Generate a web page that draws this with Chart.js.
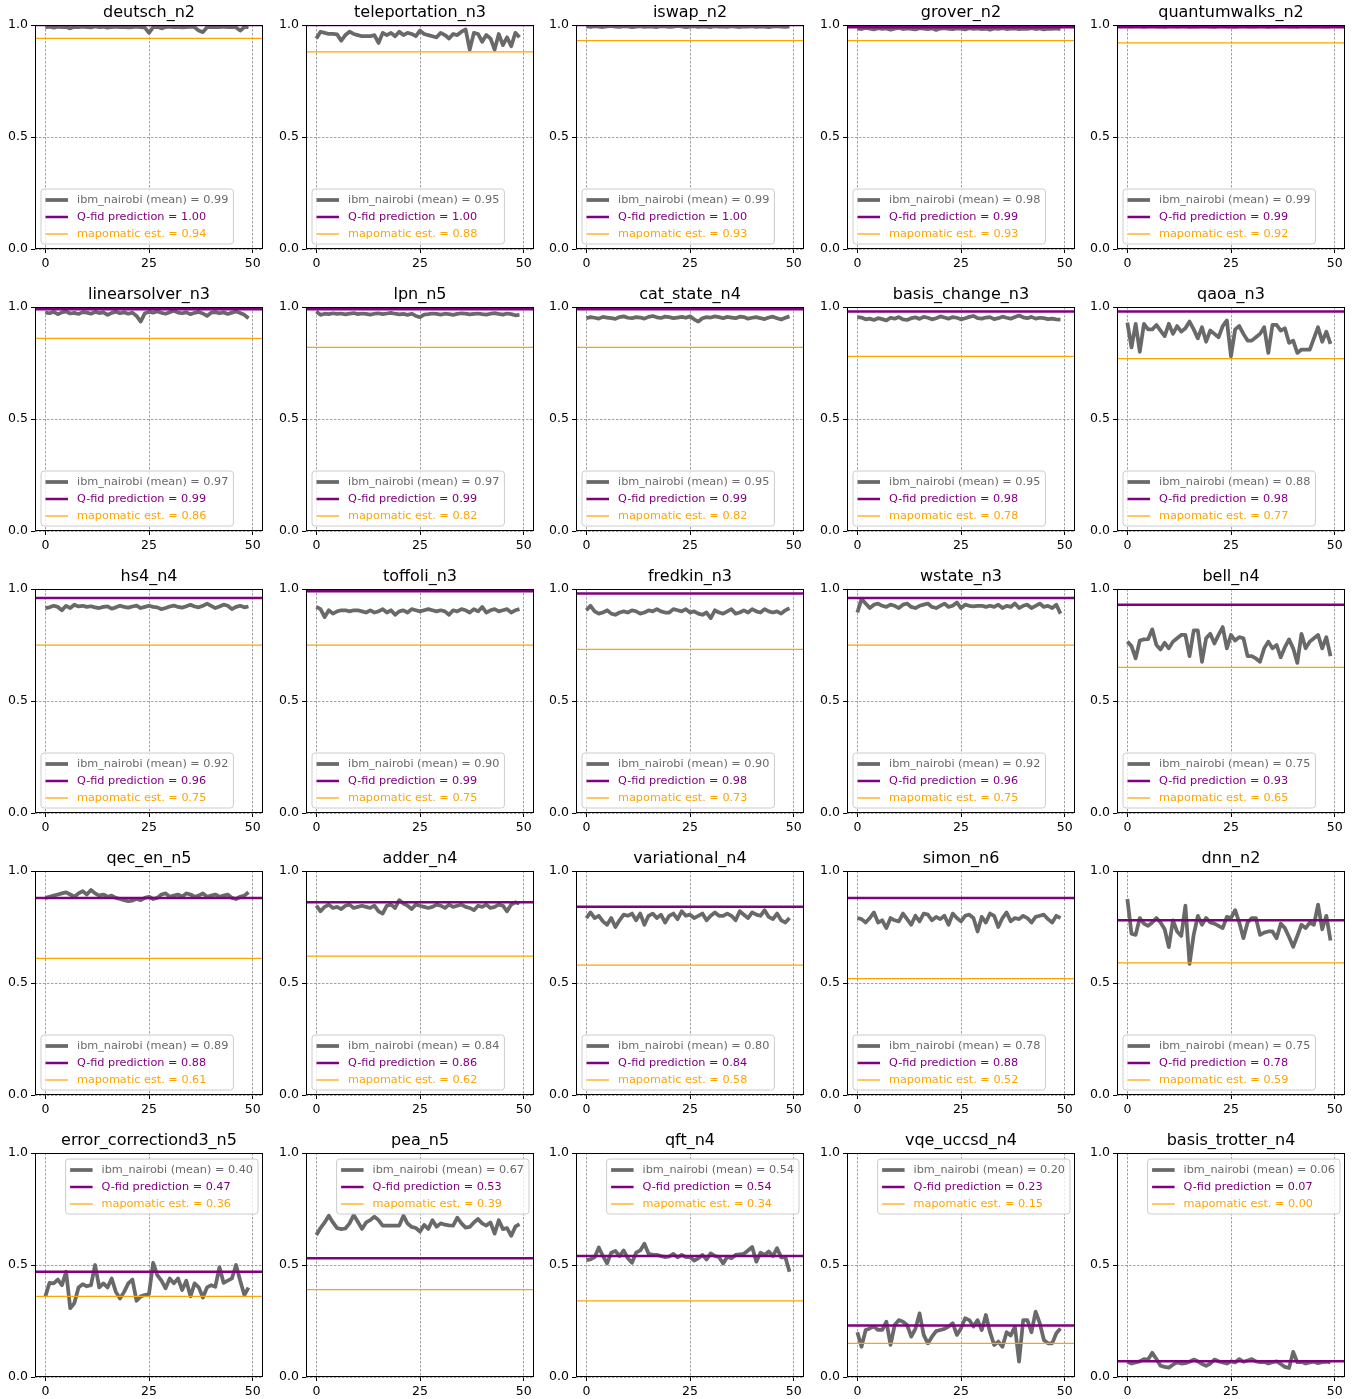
<!DOCTYPE html>
<html>
<head>
<meta charset="utf-8">
<script src="https://cdn.jsdelivr.net/npm/chart.js@4.4.0/dist/chart.umd.min.js"></script>
<style>
  html, body { margin: 0; padding: 0; background: #fff; }
  #fig { position: relative; width: 1370px; height: 1399px; }
  #fig canvas { position: absolute; }
</style>
</head>
<body>
<div id="fig"></div>
<script>
// panel titles, row by row
const names = [
  'deutsch_n2', 'teleportation_n3', 'iswap_n2', 'grover_n2', 'quantumwalks_n2',
  'linearsolver_n3', 'lpn_n5', 'cat_state_n4', 'basis_change_n3', 'qaoa_n3',
  'hs4_n4', 'toffoli_n3', 'fredkin_n3', 'wstate_n3', 'bell_n4',
  'qec_en_n5', 'adder_n4', 'variational_n4', 'simon_n6', 'dnn_n2',
  'error_correctiond3_n5', 'pea_n5', 'qft_n4', 'vqe_uccsd_n4', 'basis_trotter_n4'
];

// values printed in the legends
const meanShown = [0.99, 0.95, 0.99, 0.98, 0.99, 0.97, 0.97, 0.95, 0.95, 0.88,
  0.92, 0.90, 0.90, 0.92, 0.75, 0.89, 0.84, 0.80, 0.78, 0.75, 0.40, 0.67, 0.54, 0.20, 0.06];
const qfid = [1.00, 1.00, 1.00, 0.99, 0.99, 0.99, 0.99, 0.99, 0.98, 0.98,
  0.96, 0.99, 0.98, 0.96, 0.93, 0.88, 0.86, 0.84, 0.88, 0.78, 0.47, 0.53, 0.54, 0.23, 0.07];
const mapo = [0.94, 0.88, 0.93, 0.93, 0.92, 0.86, 0.82, 0.82, 0.78, 0.77,
  0.75, 0.75, 0.73, 0.75, 0.65, 0.61, 0.62, 0.58, 0.52, 0.59, 0.36, 0.39, 0.34, 0.15, 0.00];

const xTicks = [0, 25, 50];
const yTicks = [0, 0.5, 1.0];

// ibm_nairobi runs, 50 per circuit
const deutsch = [0.990,0.992,0.988,0.993,0.990,0.991,0.985,0.992,0.990,0.993,
  0.991,0.989,0.994,0.990,0.992,0.988,0.991,0.993,0.990,0.992,
  0.989,0.991,0.993,0.990,0.988,0.965,0.990,0.992,0.985,0.991,
  0.993,0.990,0.992,0.989,0.991,0.993,0.990,0.975,0.968,0.990,
  0.992,0.990,0.991,0.993,0.990,0.992,0.989,0.975,0.991,0.990];
const teleport = [0.94,0.97,0.965,0.96,0.96,0.958,0.93,0.955,0.97,0.96,
  0.955,0.95,0.95,0.95,0.955,0.92,0.965,0.955,0.965,0.95,
  0.97,0.955,0.965,0.96,0.95,0.975,0.96,0.955,0.95,0.945,
  0.965,0.955,0.94,0.96,0.955,0.97,0.98,0.89,0.965,0.96,
  0.925,0.955,0.94,0.89,0.96,0.91,0.945,0.905,0.965,0.945];
const iswap = [0.994,0.992,0.995,0.993,0.991,0.994,0.996,0.993,0.992,0.995,
  0.994,0.990,0.993,0.995,0.992,0.994,0.993,0.991,0.995,0.994,
  0.992,0.993,0.996,0.994,0.990,0.993,0.995,0.992,0.994,0.993,
  0.991,0.995,0.993,0.994,0.992,0.995,0.993,0.991,0.994,0.993,
  0.995,0.992,0.994,0.993,0.990,0.994,0.995,0.993,0.992,0.994];
const grover = [0.985,0.982,0.987,0.984,0.980,0.986,0.983,0.985,0.979,0.984,
  0.987,0.982,0.985,0.983,0.980,0.986,0.984,0.982,0.985,0.978,
  0.984,0.986,0.983,0.981,0.985,0.984,0.980,0.986,0.983,0.985,
  0.982,0.984,0.979,0.985,0.983,0.986,0.982,0.984,0.985,0.981,
  0.984,0.983,0.986,0.982,0.985,0.980,0.984,0.983,0.985,0.982];
const qwalks = [0.995,0.994,0.996,0.995,0.993,0.995,0.996,0.994,0.995,0.993,
  0.996,0.995,0.994,0.995,0.996,0.993,0.995,0.994,0.996,0.995,
  0.994,0.993,0.995,0.996,0.994,0.995,0.993,0.995,0.996,0.994,
  0.995,0.994,0.996,0.995,0.993,0.995,0.994,0.996,0.995,0.994,
  0.995,0.993,0.996,0.995,0.994,0.995,0.996,0.994,0.995,0.994];
const linsolve = [0.975,0.972,0.978,0.968,0.976,0.980,0.971,0.974,0.969,0.977,
  0.975,0.970,0.978,0.973,0.976,0.965,0.974,0.979,0.972,0.976,
  0.970,0.975,0.960,0.935,0.972,0.978,0.975,0.980,0.974,0.970,
  0.977,0.983,0.975,0.972,0.976,0.968,0.974,0.978,0.971,0.960,
  0.975,0.977,0.972,0.976,0.969,0.975,0.980,0.973,0.965,0.950];
const lpn = [0.980,0.965,0.970,0.968,0.972,0.969,0.971,0.967,0.970,0.973,
  0.968,0.971,0.969,0.966,0.970,0.972,0.968,0.971,0.974,0.970,
  0.967,0.969,0.965,0.970,0.960,0.955,0.966,0.968,0.971,0.969,
  0.966,0.970,0.968,0.965,0.969,0.972,0.970,0.967,0.969,0.971,
  0.968,0.966,0.970,0.973,0.969,0.966,0.971,0.968,0.963,0.965];
const catState = [0.950,0.955,0.952,0.948,0.956,0.953,0.950,0.947,0.955,0.958,
  0.952,0.950,0.955,0.953,0.948,0.956,0.960,0.954,0.951,0.957,
  0.955,0.950,0.953,0.956,0.952,0.958,0.945,0.935,0.950,0.955,
  0.953,0.958,0.955,0.950,0.956,0.953,0.950,0.957,0.955,0.948,
  0.952,0.955,0.950,0.946,0.953,0.957,0.950,0.944,0.952,0.958];
const basisChange = [0.955,0.953,0.945,0.948,0.942,0.950,0.946,0.940,0.952,0.948,
  0.955,0.945,0.942,0.950,0.954,0.947,0.956,0.952,0.945,0.950,
  0.958,0.953,0.948,0.955,0.952,0.945,0.950,0.956,0.960,0.950,
  0.948,0.953,0.955,0.946,0.950,0.957,0.952,0.948,0.955,0.962,
  0.954,0.950,0.956,0.948,0.952,0.950,0.946,0.948,0.945,0.944];
const qaoa = [0.93,0.82,0.925,0.80,0.925,0.90,0.90,0.92,0.895,0.87,
  0.925,0.88,0.915,0.89,0.905,0.935,0.90,0.86,0.91,0.845,
  0.895,0.88,0.865,0.915,0.94,0.78,0.90,0.915,0.88,0.85,
  0.85,0.865,0.88,0.91,0.795,0.92,0.92,0.895,0.905,0.84,
  0.85,0.795,0.81,0.81,0.81,0.86,0.91,0.845,0.89,0.835];
const hs4 = [0.915,0.918,0.925,0.920,0.905,0.925,0.915,0.930,0.922,0.925,
  0.920,0.923,0.918,0.915,0.920,0.922,0.912,0.918,0.925,0.920,
  0.917,0.922,0.926,0.915,0.920,0.925,0.920,0.918,0.910,0.915,
  0.922,0.926,0.920,0.917,0.923,0.930,0.922,0.918,0.925,0.935,
  0.925,0.915,0.922,0.930,0.925,0.910,0.920,0.925,0.918,0.922];
const toffoli = [0.920,0.910,0.875,0.905,0.890,0.900,0.905,0.905,0.900,0.905,
  0.905,0.900,0.895,0.905,0.895,0.900,0.910,0.895,0.905,0.885,
  0.900,0.905,0.895,0.910,0.905,0.900,0.905,0.910,0.905,0.900,
  0.905,0.900,0.885,0.905,0.900,0.910,0.905,0.895,0.910,0.900,
  0.920,0.895,0.905,0.910,0.900,0.905,0.910,0.895,0.905,0.910];
const fredkin = [0.905,0.925,0.900,0.890,0.895,0.905,0.890,0.885,0.895,0.900,
  0.895,0.905,0.900,0.890,0.895,0.905,0.900,0.910,0.900,0.895,
  0.895,0.910,0.905,0.900,0.910,0.895,0.900,0.890,0.885,0.895,
  0.870,0.905,0.895,0.890,0.900,0.910,0.890,0.895,0.905,0.895,
  0.910,0.900,0.895,0.910,0.900,0.895,0.900,0.890,0.905,0.915];
const wstate = [0.895,0.955,0.935,0.915,0.930,0.935,0.925,0.920,0.930,0.925,
  0.915,0.930,0.935,0.920,0.915,0.925,0.930,0.935,0.920,0.915,
  0.925,0.935,0.920,0.925,0.940,0.915,0.930,0.925,0.922,0.925,
  0.925,0.920,0.925,0.920,0.930,0.915,0.925,0.920,0.935,0.915,
  0.925,0.930,0.915,0.925,0.935,0.920,0.925,0.915,0.930,0.890];
const bell = [0.765,0.745,0.69,0.77,0.775,0.776,0.82,0.75,0.73,0.76,
  0.735,0.765,0.78,0.795,0.795,0.70,0.815,0.815,0.675,0.78,
  0.80,0.757,0.795,0.83,0.735,0.795,0.77,0.785,0.78,0.70,
  0.70,0.69,0.675,0.735,0.765,0.735,0.75,0.695,0.74,0.775,
  0.735,0.67,0.80,0.735,0.765,0.78,0.795,0.735,0.785,0.70];
const qec = [0.880,0.885,0.890,0.895,0.900,0.905,0.895,0.885,0.900,0.910,
  0.895,0.915,0.900,0.890,0.895,0.885,0.890,0.880,0.875,0.870,
  0.865,0.868,0.875,0.870,0.880,0.885,0.875,0.880,0.895,0.900,
  0.885,0.890,0.895,0.885,0.900,0.895,0.885,0.890,0.900,0.885,
  0.890,0.895,0.885,0.890,0.895,0.880,0.875,0.885,0.890,0.905];
const adder = [0.845,0.820,0.840,0.850,0.835,0.840,0.830,0.845,0.850,0.835,
  0.840,0.845,0.840,0.835,0.845,0.820,0.810,0.845,0.850,0.835,
  0.870,0.855,0.845,0.830,0.850,0.845,0.840,0.835,0.840,0.850,
  0.845,0.835,0.850,0.840,0.845,0.850,0.840,0.835,0.825,0.845,
  0.840,0.850,0.835,0.840,0.850,0.845,0.820,0.850,0.860,0.855];
const variational = [0.790,0.815,0.790,0.800,0.775,0.760,0.790,0.750,0.780,0.805,
  0.800,0.810,0.780,0.810,0.760,0.800,0.810,0.790,0.805,0.770,
  0.800,0.810,0.785,0.820,0.800,0.805,0.790,0.800,0.810,0.780,
  0.800,0.815,0.800,0.800,0.810,0.800,0.780,0.820,0.805,0.790,
  0.815,0.805,0.800,0.825,0.795,0.785,0.810,0.780,0.770,0.790];
const simon = [0.790,0.785,0.770,0.790,0.815,0.770,0.780,0.745,0.790,0.780,
  0.775,0.810,0.785,0.760,0.800,0.775,0.810,0.805,0.780,0.795,
  0.785,0.800,0.760,0.810,0.790,0.775,0.800,0.805,0.790,0.730,
  0.795,0.770,0.810,0.800,0.750,0.790,0.815,0.775,0.790,0.785,
  0.800,0.790,0.770,0.795,0.800,0.805,0.785,0.770,0.800,0.790];
const dnn = [0.875,0.72,0.715,0.79,0.765,0.755,0.77,0.79,0.77,0.74,
  0.66,0.78,0.73,0.71,0.845,0.585,0.715,0.80,0.76,0.79,
  0.77,0.765,0.755,0.745,0.795,0.79,0.825,0.77,0.70,0.77,
  0.79,0.79,0.715,0.725,0.73,0.73,0.70,0.765,0.745,0.705,
  0.662,0.71,0.76,0.745,0.77,0.76,0.85,0.74,0.80,0.69];
const errCorr = [0.36,0.42,0.418,0.435,0.41,0.47,0.307,0.33,0.40,0.414,
  0.405,0.41,0.50,0.40,0.418,0.40,0.44,0.38,0.35,0.38,
  0.418,0.435,0.34,0.36,0.366,0.37,0.51,0.455,0.43,0.396,
  0.44,0.418,0.44,0.388,0.43,0.36,0.418,0.40,0.355,0.40,
  0.41,0.403,0.49,0.42,0.43,0.44,0.50,0.43,0.366,0.399];
const pea = [0.634,0.665,0.69,0.72,0.69,0.665,0.66,0.663,0.686,0.723,
  0.693,0.661,0.69,0.70,0.716,0.70,0.676,0.676,0.676,0.676,
  0.676,0.72,0.685,0.67,0.665,0.649,0.679,0.661,0.70,0.671,
  0.686,0.68,0.677,0.676,0.711,0.686,0.667,0.67,0.69,0.705,
  0.686,0.676,0.69,0.64,0.70,0.66,0.665,0.63,0.671,0.682];
const qft = [0.522,0.525,0.535,0.578,0.54,0.507,0.555,0.563,0.54,0.565,
  0.53,0.51,0.555,0.565,0.595,0.55,0.545,0.545,0.54,0.535,
  0.538,0.55,0.534,0.545,0.535,0.535,0.52,0.53,0.545,0.525,
  0.552,0.54,0.535,0.507,0.537,0.53,0.545,0.548,0.55,0.565,
  0.58,0.515,0.555,0.545,0.56,0.54,0.575,0.534,0.535,0.47];
const vqe = [0.20,0.135,0.21,0.217,0.225,0.21,0.21,0.247,0.143,0.232,
  0.254,0.247,0.232,0.18,0.215,0.284,0.188,0.15,0.18,0.205,
  0.21,0.215,0.225,0.24,0.188,0.217,0.262,0.254,0.225,0.254,
  0.21,0.277,0.20,0.143,0.158,0.135,0.20,0.185,0.225,0.069,
  0.254,0.254,0.20,0.292,0.24,0.165,0.15,0.15,0.195,0.217];
const trotter = [0.068,0.060,0.065,0.070,0.080,0.078,0.108,0.080,0.050,0.045,
  0.042,0.055,0.065,0.060,0.062,0.068,0.078,0.070,0.058,0.050,
  0.060,0.078,0.070,0.065,0.060,0.070,0.065,0.080,0.068,0.074,
  0.080,0.070,0.066,0.068,0.060,0.066,0.070,0.058,0.045,0.040,
  0.112,0.066,0.068,0.060,0.065,0.068,0.062,0.066,0.068,0.065];

const runs = [deutsch, teleport, iswap, grover, qwalks,
  linsolve, lpn, catState, basisChange, qaoa,
  hs4, toffoli, fredkin, wstate, bell,
  qec, adder, variational, simon, dnn,
  errCorr, pea, qft, vqe, trotter];

const GRAY = '#696969';
const PURPLE = '#800080';
const ORANGE = '#ffa500';
const X_MIN = -2.5, X_MAX = 52.5;
const FONT = '"DejaVu Sans", sans-serif';

Chart.defaults.font.family = FONT;

// title, full frame and in-axes legend (matplotlib look)
function decor(k) {
  const row = Math.floor(k / 5);
  return {
    id: 'decor',
    afterDraw(chart) {
      const { ctx, chartArea: a } = chart;
      ctx.save();

      ctx.strokeStyle = '#000';
      ctx.lineWidth = 1;
      ctx.strokeRect(Math.round(a.left) + 0.5, Math.round(a.top) + 0.5,
        Math.round(a.right - a.left) - 1, Math.round(a.bottom - a.top) - 1);

      ctx.fillStyle = '#000';
      ctx.font = '16px ' + FONT;
      ctx.textAlign = 'center';
      ctx.textBaseline = 'alphabetic';
      ctx.fillText(names[k], (a.left + a.right) / 2, a.top - 8);

      // legend
      ctx.font = '11.25px ' + FONT;
      const items = chart.data.datasets;
      const tw = Math.max(...items.map(d => ctx.measureText(d.label).width));
      const bw = tw + 41, bh = 55;
      let bx, by;
      if (row < 4) { bx = a.left + 5.5; by = a.bottom - 5.5 - bh; }
      else { bx = a.right - 5.5 - bw; by = a.top + 5.5; }

      ctx.beginPath();
      ctx.roundRect(bx + 0.5, by + 0.5, bw, bh, 3);
      ctx.fillStyle = 'rgba(255,255,255,0.8)';
      ctx.fill();
      ctx.strokeStyle = '#cccccc';
      ctx.lineWidth = 1;
      ctx.stroke();

      ctx.textAlign = 'left';
      ctx.textBaseline = 'middle';
      items.forEach((d, j) => {
        const cy = by + 11.5 + 17 * j;
        ctx.beginPath();
        ctx.moveTo(bx + 5, cy);
        ctx.lineTo(bx + 27.5, cy);
        ctx.strokeStyle = d.borderColor;
        ctx.lineWidth = d.borderWidth;
        ctx.stroke();
        ctx.fillStyle = d.borderColor;
        ctx.fillText(d.label, bx + 36.5, cy + 0.5);
      });
      ctx.restore();
    }
  };
}

const fig = document.getElementById('fig');

names.forEach((name, k) => {
  const row = Math.floor(k / 5), col = k % 5;
  const cv = document.createElement('canvas');
  cv.width = 270;
  cv.height = 282;
  cv.style.left = Math.round(270.5 * col) + 'px';
  cv.style.top = (282 * row) + 'px';
  fig.appendChild(cv);

  const series = runs[k];

  new Chart(cv, {
    type: 'line',
    data: {
      datasets: [
        {
          label: `ibm_nairobi (mean) = ${meanShown[k].toFixed(2)}`,
          data: series.map((v, i) => ({ x: i, y: v })),
          borderColor: GRAY,
          borderWidth: 3.75,
          borderJoinStyle: 'round',
          order: 3,
        },
        {
          label: `Q-fid prediction = ${qfid[k].toFixed(2)}`,
          data: [{ x: X_MIN, y: qfid[k] }, { x: X_MAX, y: qfid[k] }],
          borderColor: PURPLE,
          borderWidth: 2.5,
          order: 2,
        },
        {
          label: `mapomatic est. = ${mapo[k].toFixed(2)}`,
          data: [{ x: X_MIN, y: mapo[k] }, { x: X_MAX, y: mapo[k] }],
          borderColor: ORANGE,
          borderWidth: 1.25,
          order: 1,
        },
      ],
    },
    options: {
      responsive: false,
      animation: false,
      devicePixelRatio: 1,
      layout: { padding: { top: 25, right: 7, left: 0, bottom: 0 } },
      elements: { point: { radius: 0 }, line: { tension: 0, fill: false } },
      plugins: { legend: { display: false }, tooltip: { enabled: false }, title: { display: false } },
      scales: {
        x: {
          type: 'linear',
          min: X_MIN,
          max: X_MAX,
          afterBuildTicks: s => { s.ticks = xTicks.map(v => ({ value: v })); },
          afterFit: s => { s.height = 33; },
          ticks: { color: '#000', font: { size: 12.5 }, padding: 3, autoSkip: false, maxRotation: 0 },
          grid: { color: '#8a8a8a', lineWidth: 0.8, tickLength: 4, tickColor: '#000', tickWidth: 1, tickBorderDash: [] },
          border: { display: false, dash: [2.5, 1.5] },
        },
        y: {
          type: 'linear',
          min: 0,
          max: 1,
          afterBuildTicks: s => { s.ticks = yTicks.map(v => ({ value: v })); },
          afterFit: s => { s.width = 35; },
          ticks: { color: '#000', font: { size: 12.5 }, padding: 3, autoSkip: false, callback: v => v.toFixed(1) },
          grid: { color: '#8a8a8a', lineWidth: 0.8, tickLength: 4, tickColor: '#000', tickWidth: 1, tickBorderDash: [] },
          border: { display: false, dash: [2.5, 1.5] },
        },
      },
    },
    plugins: [decor(k)],
  });
});
</script>
</body>
</html>
